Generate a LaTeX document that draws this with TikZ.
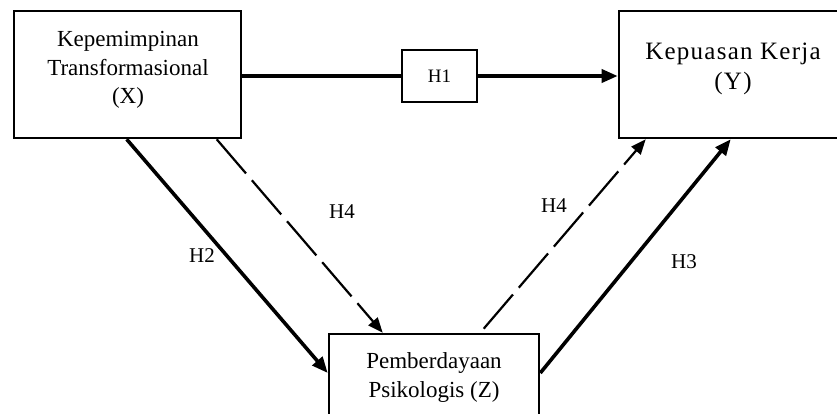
\documentclass[tikz,border=0pt]{standalone}
\usepackage{fontspec}
\setmainfont{Liberation Serif}
\usetikzlibrary{arrows.meta}
\begin{document}
\begin{tikzpicture}[x=1pt,y=-1pt,
  box/.style={draw, line width=2.6pt, rectangle, inner sep=0pt},
  hbox/.style={draw, line width=1.8pt, rectangle, inner sep=0pt},
  txt/.style={inner sep=0pt, align=center},
  lbl/.style={inner sep=0pt, font=\fontsize{21}{25}\selectfont},
  solidarrow/.style={line width=3.6pt, -{Triangle[length=16pt,width=13pt]}},
  solidline/.style={line width=3.6pt},
  dasharrow/.style={line width=2.2pt, dash pattern=on 45pt off 9pt, -{Triangle[length=15pt,width=12pt]}}]
\clip (0,0) rectangle (837,414);
\useasboundingbox (0,0) rectangle (837,414);
\fill[white] (0,0) rectangle (837,414);
% boxes
\node[box, minimum width=227pt, minimum height=127pt] (X) at (127.5,74.5) {};
\node[hbox, minimum width=75pt, minimum height=52pt] (H1) at (439.5,76) {};
\node[box, minimum width=236pt, minimum height=127pt] (Y) at (737,74.5) {};
\node[box, minimum width=210pt, minimum height=96pt] (Z) at (434,382) {};
% texts
\node[txt, font=\fontsize{23}{28.5}\selectfont] (Xt) at (128,70) {Kepemimpinan\\Transformasional\\(X)};
\node[txt, font=\fontsize{19}{22}\selectfont] (H1t) at (H1) {H1};
\node[txt, font=\fontsize{25}{30}\selectfont\addfontfeature{LetterSpace=5}] (Yt) at (733,69) {Kepuasan Kerja\\(Y)};
\node[txt, font=\fontsize{23}{29}\selectfont] (Zt) at (434,377) {Pemberdayaan\\Psikologis (Z)};
% labels
\node[lbl] (lH2) at (202,256) {H2};
\node[lbl] (lH4a) at (342,212) {H4};
\node[lbl] (lH4b) at (554,206) {H4};
\node[lbl] (lH3) at (684,262) {H3};
% connectors
\draw[solidline] (X.east |- H1.west) -- (H1.west);
\draw[solidarrow] (H1.east) -- (Y.west |- H1.east);
\draw[solidarrow] ([xshift=114pt]X.south west) -- ([yshift=9pt]Z.west);
\draw[dasharrow] ([xshift=204pt]X.south west) -- ([xshift=55pt]Z.north west);
\draw[dasharrow] ([xshift=156pt,yshift=4pt]Z.north west) -- ([xshift=28pt]Y.south west);
\draw[solidarrow] ([yshift=9pt]Z.east) -- ([xshift=113pt]Y.south west);
\end{tikzpicture}
\end{document}
